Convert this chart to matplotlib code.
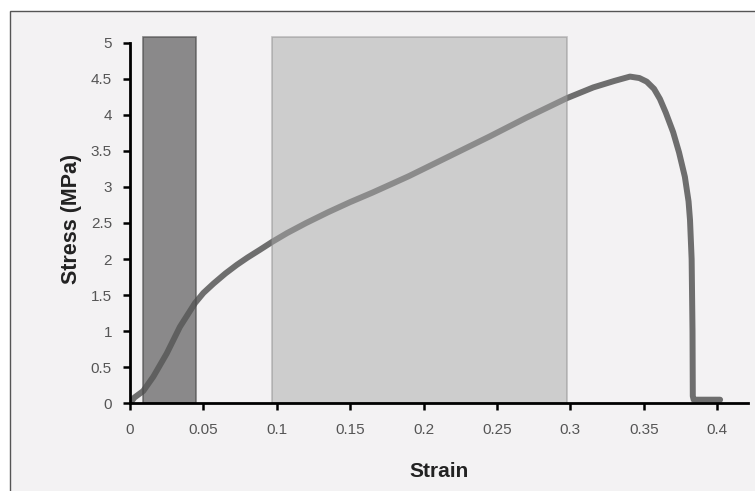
import matplotlib.pyplot as plt
from matplotlib import ticker
from matplotlib.patches import Rectangle

# stress-strain curve
strain = [0.000, 0.003, 0.009, 0.0159, 0.025, 0.034, 0.0443, 0.050, 0.0569,
          0.065, 0.0728, 0.080, 0.0886, 0.097, 0.107, 0.120, 0.135, 0.150,
          0.165, 0.177, 0.190, 0.200, 0.220, 0.245, 0.270, 0.2975, 0.3156,
          0.330, 0.3406, 0.347, 0.352, 0.357, 0.361, 0.365, 0.370, 0.374,
          0.378, 0.3805, 0.3815, 0.3826, 0.3832, 0.3834, 0.3840, 0.402]
stress = [0.00, 0.08, 0.17, 0.37, 0.69, 1.06, 1.39, 1.53, 1.66,
          1.80, 1.92, 2.02, 2.13, 2.24, 2.36, 2.50, 2.65, 2.79,
          2.92, 3.03, 3.15, 3.25, 3.45, 3.70, 3.96, 4.23, 4.38,
          4.47, 4.53, 4.51, 4.46, 4.36, 4.22, 4.03, 3.76, 3.48,
          3.14, 2.80, 2.54, 2.00, 1.00, 0.10, 0.05, 0.05]

# shaded strain regions
dark_region = (0.009, 0.045)
light_region = (0.097, 0.298)
region_top = 5.08

x_ticks = [0, 0.05, 0.1, 0.15, 0.2, 0.25, 0.3, 0.35, 0.4]
y_ticks = [0, 0.5, 1, 1.5, 2, 2.5, 3, 3.5, 4, 4.5, 5]

BG = "#f3f2f3"

plt.rcParams["font.family"] = ["Liberation Sans", "DejaVu Sans"]

fig = plt.figure(figsize=(7.55, 4.91), dpi=100, facecolor="white")
# grey panel with a thin frame on the left and top
fig.patches.append(Rectangle((10 / 755, -0.1), 1.2, 1 - 11 / 491 + 0.1,
                             transform=fig.transFigure, facecolor=BG,
                             edgecolor="#555555", linewidth=1.0, zorder=-1))

ax = fig.add_axes([130 / 755, 1 - 403.3 / 491, 618 / 755, 360.6 / 491])
ax.set_facecolor("none")

ax.plot(strain, stress, color="#6e6e6e", linewidth=4.3, solid_joinstyle="round",
        solid_capstyle="round", zorder=2)

ax.add_patch(Rectangle((dark_region[0], 0), dark_region[1] - dark_region[0],
                       region_top, facecolor="#585858", alpha=0.68,
                       edgecolor="#4a4a4a", linewidth=1.2, clip_on=False,
                       zorder=3))
ax.add_patch(Rectangle((light_region[0], 0), light_region[1] - light_region[0],
                       region_top, facecolor="#a9a9a9", alpha=0.5,
                       edgecolor="#8a8a8a", linewidth=1.2, clip_on=False,
                       zorder=3))

ax.set_xlim(0, 0.421)
ax.set_ylim(0, 5)
ax.set_xticks(x_ticks)
ax.set_yticks(y_ticks)
ax.xaxis.set_major_formatter(ticker.FuncFormatter(lambda v, p: f"{v:g}"))
ax.yaxis.set_major_formatter(ticker.FuncFormatter(lambda v, p: f"{v:g}"))

for side in ("top", "right"):
    ax.spines[side].set_visible(False)
for side in ("left", "bottom"):
    ax.spines[side].set_linewidth(2.0)
    ax.spines[side].set_color("black")
    ax.spines[side].set_zorder(4)

ax.tick_params(axis="both", direction="out", length=5, width=1.8,
               color="black", labelsize=11, labelcolor="#555555")
ax.tick_params(axis="x", pad=9)
ax.tick_params(axis="y", pad=8)

ax.set_xlabel("Strain", fontsize=15, fontweight="bold", color="#222222")
ax.set_ylabel("Stress (MPa)", fontsize=15.5, fontweight="bold", color="#222222")
ax.xaxis.set_label_coords(0.5, -0.163)
ax.yaxis.set_label_coords(-0.077, 0.51)

fig.savefig("out.png", dpi=100, facecolor=fig.get_facecolor())
